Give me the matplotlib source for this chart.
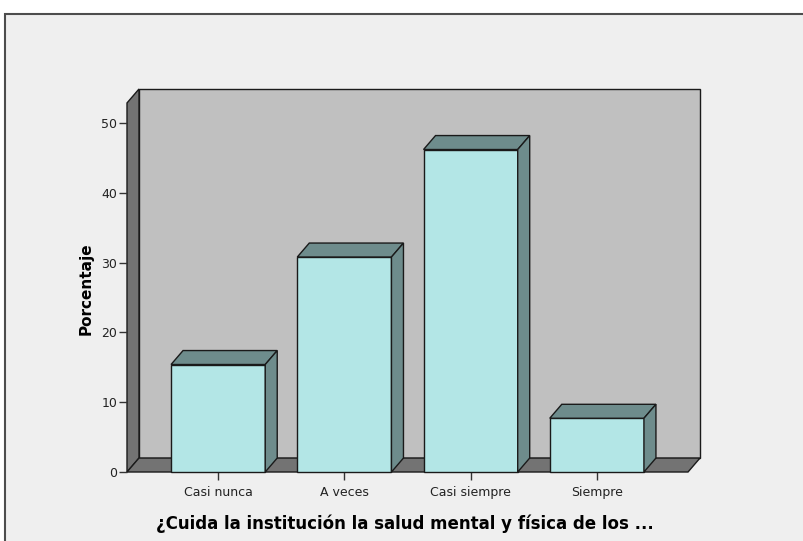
import numpy as np
import matplotlib.pyplot as plt
from matplotlib.patches import Polygon, Rectangle

# data (percent of 13 answers)
categories = ['Casi nunca', 'A veces', 'Casi siempre', 'Siempre']
porcentaje = [15.4, 30.8, 46.2, 7.7]
yticks = [0, 10, 20, 30, 40, 50]

# colours
c_front = '#b3e6e6'
c_shade = '#6e8c8c'
c_wall = '#c0c0c0'
c_floor = '#737373'
c_edge = '#1a1a1a'

W, H = 804, 541
fig = plt.figure(figsize=(W / 100, H / 100), dpi=100)
fig.patch.set_facecolor('white')

# grey panel with border (behind the axes), runs off the right and bottom edges
fig.patches.append(Rectangle((5 / W, -0.05), 1.1, 1.05 - 14 / H, transform=fig.transFigure,
                             facecolor='#efefef', edgecolor='#4d4d4d', lw=1.5, zorder=-5))

# axes placed in pixels: front plane left 127, zero line 472, top 89
ax = fig.add_axes([127 / W, 1 - 472 / H, (700 - 127) / W, (472 - 89) / H])
ax.patch.set_visible(False)
for s in ax.spines.values():
    s.set_visible(False)

x0, x1 = -0.722, 3.722
ytop = 54.87
dx, dy = 0.095, 2.0
ax.set_xlim(x0, x1 + dx)
ax.set_ylim(0, ytop)

# back wall, left wall, floor
ax.add_patch(Polygon([(x0 + dx, dy), (x1 + dx, dy), (x1 + dx, ytop), (x0 + dx, ytop)],
                     facecolor=c_wall, edgecolor=c_edge, lw=1, clip_on=False))
ax.add_patch(Polygon([(x0, 0), (x0 + dx, dy), (x0 + dx, ytop), (x0, ytop - dy)],
                     facecolor=c_floor, edgecolor=c_edge, lw=1, clip_on=False))
ax.add_patch(Polygon([(x0, 0), (x1, 0), (x1 + dx, dy), (x0 + dx, dy)],
                     facecolor=c_floor, edgecolor=c_edge, lw=1, clip_on=False))

bw = 94 / 126
for i, v in enumerate(porcentaje):
    l, r = i - bw / 2, i + bw / 2
    ax.add_patch(Polygon([(l, 0), (r, 0), (r, v), (l, v)],
                         facecolor=c_front, edgecolor=c_edge, lw=1, clip_on=False, zorder=3))
    ax.add_patch(Polygon([(l, v), (r, v), (r + dx, v + dy), (l + dx, v + dy)],
                         facecolor=c_shade, edgecolor=c_edge, lw=1, clip_on=False, zorder=3))
    ax.add_patch(Polygon([(r, 0), (r + dx, dy), (r + dx, v + dy), (r, v)],
                         facecolor=c_shade, edgecolor=c_edge, lw=1, clip_on=False, zorder=3))

ax.set_yticks(yticks)
ax.set_xticks(range(len(categories)))
ax.set_xticklabels(categories)
ax.tick_params(axis='both', direction='out', length=6, width=1, color='#333333',
               labelsize=9, labelcolor='#222222')
ax.tick_params(axis='y', pad=1)
ax.tick_params(axis='x', pad=4)

ax.set_ylabel('Porcentaje', fontsize=11, fontweight='bold', labelpad=6)
ax.yaxis.set_label_coords(-0.058, 0.478)
ax.set_xlabel('¿Cuida la institución la salud mental y física de los ...',
              fontsize=12, fontweight='bold', labelpad=8)
ax.xaxis.set_label_coords(0.485, -0.11)

fig.savefig('out.png', dpi=100)
